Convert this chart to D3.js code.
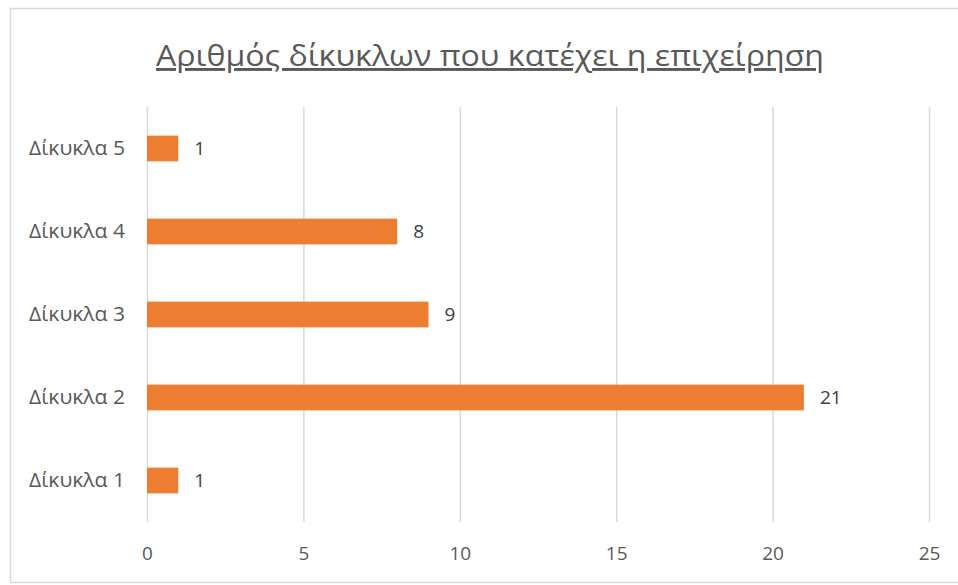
<!DOCTYPE html>
<html><head><meta charset="utf-8">
<script src="https://cdn.jsdelivr.net/npm/d3@7"></script>
<style>body{margin:0;background:#fff}svg{display:block}</style>
</head><body>
<svg id="c" width="958" height="585"></svg>
<script>
const categories = ["Δίκυκλα 1","Δίκυκλα 2","Δίκυκλα 3","Δίκυκλα 4","Δίκυκλα 5"];
const values = [1,21,9,8,1];
const ticks = [0,5,10,15,20,25];
const title = "Αριθμός δίκυκλων που κατέχει η επιχείρηση";

const svg = d3.select("#c");
const font = "'Open Sans', 'Noto Sans', sans-serif";
svg.append("rect").attr("x",10.5).attr("y",8.5).attr("width",960).attr("height",574)
  .attr("fill","#fff").attr("stroke","#d9d9d9").attr("stroke-width",1.5);

const x = d3.scaleLinear().domain([0,25]).range([147,929]);
const y = d3.scaleBand().domain(categories.slice().reverse()).range([107,522]).paddingInner(0.69).paddingOuter(0.345);

svg.append("g").selectAll("line").data(ticks).join("line")
  .attr("x1",d=>x(d)+0.5).attr("x2",d=>x(d)+0.5).attr("y1",107).attr("y2",522)
  .attr("stroke","#d9d9d9").attr("stroke-width",1.5);

const ax = svg.append("g").attr("transform","translate(0,522)").call(d3.axisBottom(x).tickValues(ticks).tickSize(0).tickPadding(25));
ax.select(".domain").remove();
ax.selectAll("text").attr("font-family",font).attr("font-size",19).attr("fill","#595959");

const ay = svg.append("g").attr("transform","translate(125,0)").call(d3.axisLeft(y).tickSize(0).tickPadding(0));
ay.select(".domain").remove();
ay.selectAll("text").attr("font-family",font).attr("font-size",19.5).attr("fill","#595959")
  .attr("textLength",96).attr("lengthAdjust","spacingAndGlyphs");

svg.append("g").selectAll("rect").data(categories).join("rect")
  .attr("x",x(0)).attr("y",d=>y(d)).attr("height",y.bandwidth())
  .attr("width",(d,i)=>x(values[i])-x(0)).attr("fill","#ed7d31");

svg.append("g").selectAll("text").data(categories).join("text")
  .attr("x",(d,i)=>x(values[i])+16).attr("y",d=>y(d)+y.bandwidth()/2).attr("dy","0.35em")
  .attr("font-family",font).attr("font-size",19).attr("fill","#404040")
  .text((d,i)=>values[i]);

svg.append("text").attr("x",490).attr("y",66).attr("text-anchor","middle")
  .attr("font-family",font).attr("font-size",29).attr("fill","#595959")
  .attr("text-decoration","underline").attr("textLength",668).attr("lengthAdjust","spacingAndGlyphs")
  .text(title);
</script>
</body></html>
